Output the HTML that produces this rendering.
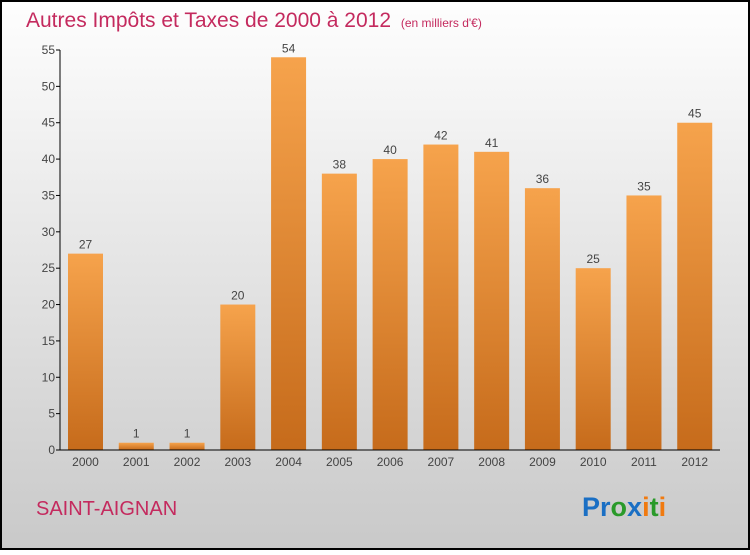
<!DOCTYPE html>
<html><head><meta charset="utf-8"><style>
body{margin:0;width:750px;height:550px;overflow:hidden;font-family:"Liberation Sans",sans-serif}
</style></head><body>
<svg id="c" width="750" height="550">
<defs>
<linearGradient id="bg" x1="0" y1="0" x2="0" y2="1"><stop offset="0" stop-color="#fefefe"/><stop offset="1" stop-color="#c9c9c9"/></linearGradient>
<linearGradient id="bar" x1="0" y1="0" x2="0" y2="1"><stop offset="0" stop-color="#f6a34c"/><stop offset="1" stop-color="#c66b1b"/></linearGradient>
</defs>
<rect x="1" y="1" width="748" height="548" fill="url(#bg)" stroke="#000" stroke-width="2"/>
<text x="26" y="27" font-size="21" fill="#c42a5e">Autres Impôts et Taxes de 2000 à 2012 <tspan font-size="12" dx="4">(en milliers d'€)</tspan></text>
<g id="plot"></g>
<text x="36" y="515" font-size="20" fill="#c42a5e">SAINT-AIGNAN</text>
<text x="582" y="516" font-size="27" font-weight="bold"><tspan fill="#1a6fc4">Pr</tspan><tspan fill="#2a9a2a">o</tspan><tspan fill="#1a6fc4">x</tspan><tspan fill="#f07a10">i</tspan><tspan fill="#2a9a2a">t</tspan><tspan fill="#f07a10">i</tspan></text>
</svg>
<script>
const categories=["2000","2001","2002","2003","2004","2005","2006","2007","2008","2009","2010","2011","2012"];
const values=[27,1,1,20,54,38,40,42,41,36,25,35,45];
const yTicks=[0,5,10,15,20,25,30,35,40,45,50,55];
const NS="http://www.w3.org/2000/svg";
const g=document.getElementById('plot');
const x0=60,x1=720,y0=450,yTop=50,yMax=55;
const bw=(x1-x0)/categories.length;
const y=v=>y0-v/yMax*(y0-yTop);
function mk(t,a,txt){const e=document.createElementNS(NS,t);for(const k in a)e.setAttribute(k,a[k]);if(txt!=null)e.textContent=txt;g.appendChild(e);return e;}
yTicks.forEach(t=>{
 const l=mk('line',{x1:x0-4,x2:x0,y1:y(t),y2:y(t),stroke:'#000'});
 
 
 const tx=mk('text',{x:x0-5,y:y(t)+4,'font-size':12,fill:'#444','text-anchor':'end'},t);
 
 
});
categories.forEach((c,i)=>{
 const bx=x0+i*bw+8,w=35;
 const r=mk('rect',{x:bx,y:y(values[i]),width:w,height:y0-y(values[i]),fill:'url(#bar)'});
 
 
 const v=mk('text',{x:bx+w/2,y:y(values[i])-5,'font-size':12,fill:'#444','text-anchor':'middle'},values[i]);
 
 
 const xl=mk('text',{x:bx+w/2,y:y0+16,'font-size':12,fill:'#444','text-anchor':'middle'},c);
 
 
});
const ya=mk('line',{x1:x0,x2:x0,y1:yTop,y2:y0,stroke:'#000'});


const xa=mk('line',{x1:x0,x2:x1,y1:y0,y2:y0,stroke:'#000'});


</script>
</body></html>
